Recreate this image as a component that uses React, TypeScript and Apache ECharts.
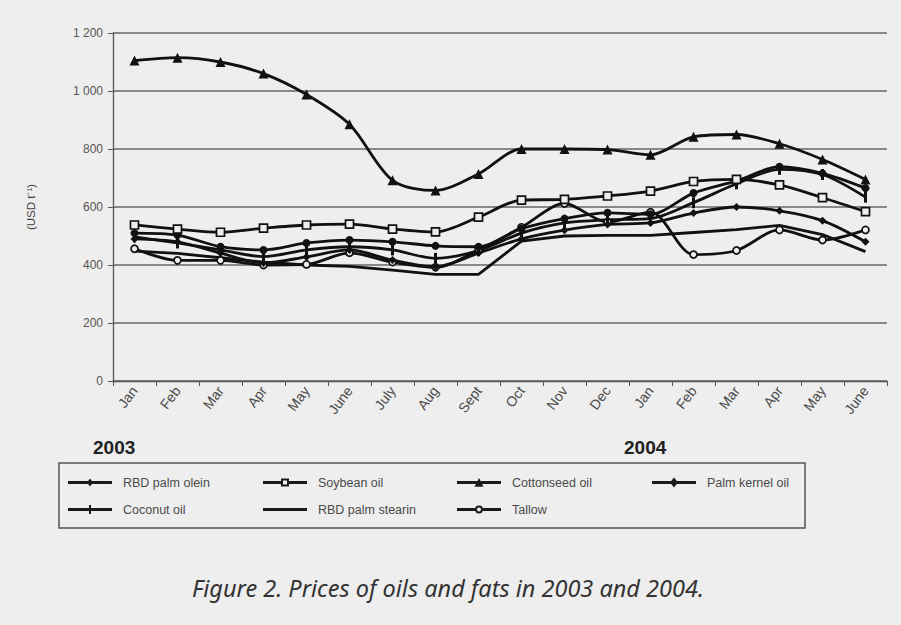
import React, { useEffect, useRef } from 'react';
import * as echarts from 'echarts';

const months = ['Jan', 'Feb', 'Mar', 'Apr', 'May', 'June', 'July', 'Aug', 'Sept', 'Oct', 'Nov', 'Dec', 'Jan', 'Feb', 'Mar', 'Apr', 'May', 'June'];
const yearLabels = ['2003', '2004'];
const yTickLabels = ['0', '200', '400', '600', '800', '1 000', '1 200'];

const palmOlein = [490, 480, 441, 407, 428, 452, 417, 394, 441, 490, 520, 540, 545, 579, 600, 587, 553, 480];
const soybean = [538, 524, 513, 527, 538, 541, 524, 514, 565, 624, 626, 638, 655, 688, 695, 676, 632, 584];
const cottonseed = [1105, 1115, 1100, 1060, 988, 885, 692, 657, 714, 800, 800, 798, 780, 842, 850, 818, 764, 695];
const palmKernel = [510, 503, 463, 452, 476, 486, 480, 466, 463, 525, 560, 580, 575, 648, 690, 739, 716, 665];
const coconut = [497, 476, 452, 429, 452, 463, 452, 423, 450, 510, 545, 556, 560, 615, 680, 730, 712, 634];
const stearin = [448, 440, 425, 410, 400, 395, 382, 368, 368, 482, 500, 502, 502, 512, 522, 537, 505, 446];
const tallow = [456, 416, 416, 400, 402, 442, 410, 392, 452, 530, 612, 548, 582, 436, 450, 521, 486, 521];

const BG = '#eeeeee';
const FONT = '"Liberation Sans", Arial, sans-serif';

// legend icons in a 44 x 10 box (two tiny corner dots fix the bounding box)
const BOX = 'M0,0L0.3,0L0.3,0.3Z M43.7,9.7L44,9.7L44,10L43.7,10Z ';
const FULL_LINE = 'M0,3.5L44,3.5L44,6.5L0,6.5Z ';
const SPLIT_LINE = 'M0,3.5L18,3.5L18,6.5L0,6.5Z M26,3.5L44,3.5L44,6.5L26,6.5Z ';
const ICONS: Record<string, string> = {
  'RBD palm olein': 'path://' + BOX + FULL_LINE + 'M22,1L25,5L22,9L19,5Z',
  'Soybean oil': 'path://' + BOX + SPLIT_LINE + 'M18,1L26,1L26,9L18,9Z M20,3L20,7L24,7L24,3Z',
  'Cottonseed oil': 'path://' + BOX + FULL_LINE + 'M22,0.5L26.5,9.3L17.5,9.3Z',
  'Palm kernel oil': 'path://' + BOX + FULL_LINE + 'M22,0L26,5L22,10L18,5Z',
  'Coconut oil': 'path://' + BOX + FULL_LINE + 'M21,0.5L23,0.5L23,9.5L21,9.5Z',
  'RBD palm stearin': 'path://' + BOX + FULL_LINE,
  'Tallow': 'path://' + BOX + SPLIT_LINE + 'M18,5A4,4 0 1,0 26,5A4,4 0 1,0 18,5Z M20,5A2,2 0 1,1 24,5A2,2 0 1,1 20,5Z',
};

export default function App() {
  const ref = useRef<HTMLDivElement>(null);
  useEffect(() => {
    if (!ref.current) return;
    const chart = echarts.init(ref.current, undefined, { renderer: 'svg' });
    const line = (name: string, data: number[], symbol: any, symbolSize: any, fill: string, smooth: any = 0.3) => ({
      name,
      type: 'line',
      data,
      smooth,
      symbol,
      symbolSize,
      showSymbol: symbol !== 'none',
      lineStyle: { color: '#111', width: 2.8 },
      itemStyle: { color: fill, borderColor: '#111', borderWidth: fill === '#111' ? 0 : 1.7 },
      emphasis: { disabled: true },
    });
    const legendItem = (name: string, left: number, top: number) => ({
      data: [{ name, icon: ICONS[name], itemStyle: { color: '#1a1a1a', borderWidth: 0 } }],
      left,
      top,
      padding: 0,
      orient: 'horizontal',
      itemWidth: 44,
      itemHeight: 10,
      selectedMode: false,
      textStyle: { fontFamily: FONT, fontSize: 12.5, color: '#4a4a4a', padding: [0, 0, 0, 6] },
    });
    chart.setOption({
      animation: false,
      backgroundColor: BG,
      textStyle: { fontFamily: FONT },
      grid: { left: 113, right: 14, top: 33, bottom: 244, containLabel: false },
      xAxis: {
        type: 'category',
        data: months,
        boundaryGap: true,
        axisLine: { lineStyle: { color: '#555', width: 1.3 } },
        axisTick: { show: true, length: 5, interval: 0, lineStyle: { color: '#555' } },
        axisLabel: { interval: 0, rotate: 53, fontSize: 14, color: '#4a4a4a', margin: 7, fontFamily: FONT },
        splitLine: { show: false },
      },
      yAxis: {
        type: 'value',
        min: 0,
        max: 1200,
        interval: 200,
        name: '(USD t\u207B\u00B9)',
        nameLocation: 'middle',
        nameGap: 76,
        nameRotate: 90,
        nameTextStyle: { fontSize: 11.5, color: '#444', fontFamily: FONT },
        axisLine: { show: true, lineStyle: { color: '#555', width: 1.3 } },
        axisTick: { show: true, length: 5, lineStyle: { color: '#555' } },
        axisLabel: {
          fontSize: 12,
          color: '#555',
          margin: 10,
          fontFamily: FONT,
          formatter: (v: number) => yTickLabels[Math.round(v / 200)] ?? String(v),
        },
        splitLine: { show: true, lineStyle: { color: '#666', width: 1.5 } },
      },
      legend: [
        legendItem('RBD palm olein', 68, 476),
        legendItem('Soybean oil', 263, 476),
        legendItem('Cottonseed oil', 457, 476),
        legendItem('Palm kernel oil', 652, 476),
        legendItem('Coconut oil', 68, 503),
        legendItem('RBD palm stearin', 263, 503),
        legendItem('Tallow', 457, 503),
      ],
      graphic: [
        {
          type: 'rect',
          shape: { x: 59, y: 463, width: 746, height: 65 },
          style: { fill: 'none', stroke: '#555', lineWidth: 1.5 },
          silent: true,
        },
        {
          type: 'text',
          x: 93,
          y: 438,
          style: { text: yearLabels[0], fontSize: 19, fontWeight: 'bold', fontFamily: FONT, fill: '#222' },
          silent: true,
        },
        {
          type: 'text',
          x: 624,
          y: 438,
          style: { text: yearLabels[1], fontSize: 19, fontWeight: 'bold', fontFamily: FONT, fill: '#222' },
          silent: true,
        },
        {
          type: 'text',
          x: 448,
          y: 576,
          style: {
            text: 'Figure 2. Prices of oils and fats in 2003 and 2004.',
            fontSize: 23.5,
            fontStyle: 'italic',
            fontFamily: '"Noto Sans", "Open Sans", sans-serif',
            fill: '#333',
            align: 'center',
          },
          silent: true,
        },
      ],
      series: [
        line('RBD palm stearin', stearin, 'none', 0, '#111', false),
        line('Tallow', tallow, 'circle', 7, BG),
        line('Coconut oil', coconut, 'rect', [3, 11], '#111'),
        line('RBD palm olein', palmOlein, 'diamond', 8, '#111'),
        line('Palm kernel oil', palmKernel, 'circle', 8, '#111'),
        line('Soybean oil', soybean, 'rect', 8, BG),
        line('Cottonseed oil', cottonseed, 'triangle', 10, '#111'),
      ],
    });
    return () => chart.dispose();
  }, []);
  return <div ref={ref} style={{ position: 'fixed', left: 0, top: 0, width: 901, height: 625 }} />;
}
